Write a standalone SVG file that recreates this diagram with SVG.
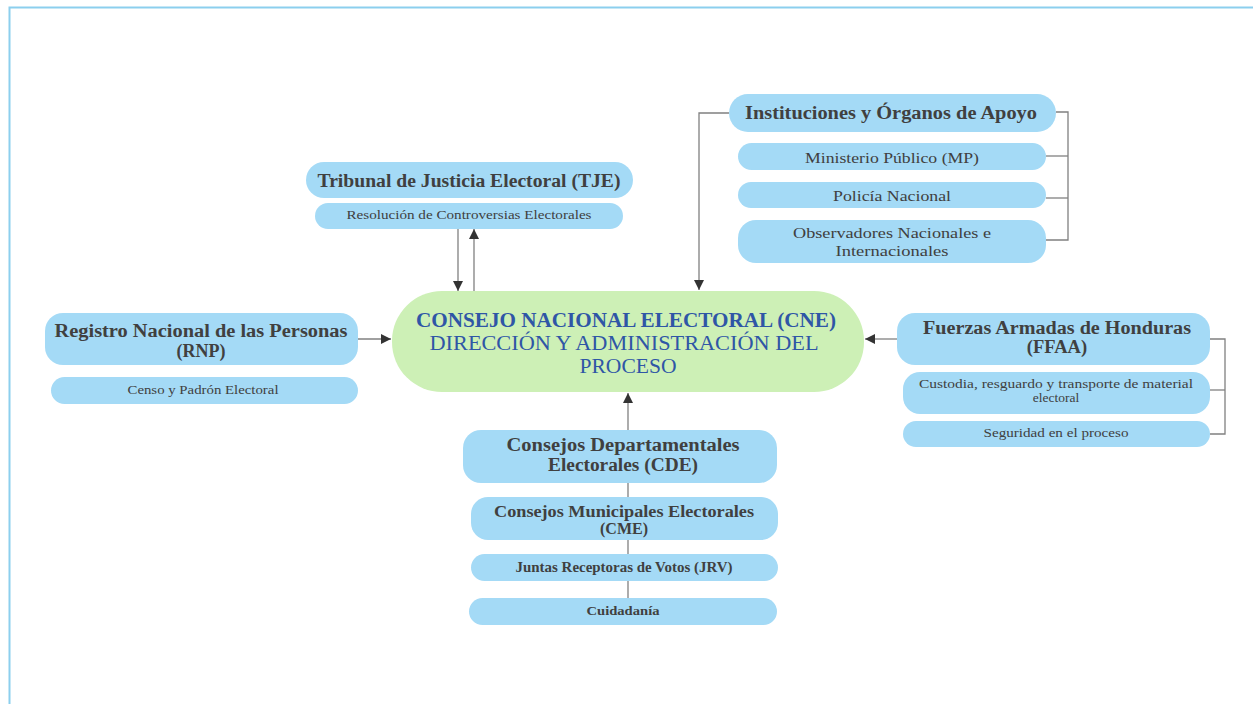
<svg xmlns="http://www.w3.org/2000/svg" width="1253" height="704" viewBox="0 0 1253 704">
<style>
.box{fill:#a4daf6}
.cne{fill:#cdf0b6}
text{font-family:"Liberation Serif","DejaVu Serif",serif;fill:#404040;text-anchor:middle}
.b{font-weight:bold}
.c{fill:#2f56a6}
.ln{fill:none;stroke:#808080;stroke-width:1.3}
</style>
<defs>
<marker id="ah" viewBox="0 0 10 10" refX="10" refY="5" markerWidth="10" markerHeight="10" markerUnits="userSpaceOnUse" orient="auto">
<path d="M0,0 L10,5 L0,10 z" fill="#333"/>
</marker>
</defs>
<rect width="1253" height="704" fill="#fff"/>
<path d="M9.5,704 V7.5 H1253" fill="none" stroke="#8ccfee" stroke-width="2"/>

<g id="connectors">
<line class="ln" x1="458" y1="229" x2="458" y2="291" marker-end="url(#ah)"/>
<line class="ln" x1="474" y1="291" x2="474" y2="229" marker-end="url(#ah)"/>
<polyline class="ln" points="729,113 699,113 699,290" marker-end="url(#ah)"/>
<polyline class="ln" points="1056,112 1068,112 1068,240 1046,240"/>
<line class="ln" x1="1046" y1="156" x2="1068" y2="156"/>
<line class="ln" x1="1046" y1="198" x2="1068" y2="198"/>
<line class="ln" x1="358" y1="339" x2="391" y2="339" marker-end="url(#ah)"/>
<line class="ln" x1="897" y1="339" x2="865" y2="339" marker-end="url(#ah)"/>
<polyline class="ln" points="1210,339 1225,339 1225,434 1210,434"/>
<line class="ln" x1="1210" y1="390" x2="1225" y2="390"/>
<line class="ln" x1="628" y1="598" x2="628" y2="393" marker-end="url(#ah)"/>
</g>

<g id="cne">
<rect class="cne" x="392" y="291" width="472" height="101" rx="50"/>
<text class="b c" x="626" y="327" font-size="22" textLength="420" lengthAdjust="spacingAndGlyphs">CONSEJO NACIONAL ELECTORAL (CNE)</text>
<text class="c" x="624" y="350" font-size="22" textLength="389" lengthAdjust="spacingAndGlyphs">DIRECCIÓN Y ADMINISTRACIÓN DEL</text>
<text class="c" x="628" y="373" font-size="22" textLength="97" lengthAdjust="spacingAndGlyphs">PROCESO</text>
</g>

<g id="tje">
<rect class="box" x="306" y="162" width="327" height="36" rx="18"/>
<text class="b" x="469" y="187" font-size="18" textLength="303" lengthAdjust="spacingAndGlyphs">Tribunal de Justicia Electoral (TJE)</text>
</g>
<g id="tje-resolucion">
<rect class="box" x="315" y="203" width="308" height="26" rx="13"/>
<text x="469" y="219" font-size="13.5" textLength="245" lengthAdjust="spacingAndGlyphs">Resolución de Controversias Electorales</text>
</g>

<g id="instituciones">
<rect class="box" x="729" y="94" width="327" height="38" rx="19"/>
<text class="b" x="891" y="119" font-size="18" textLength="292" lengthAdjust="spacingAndGlyphs">Instituciones y Órganos de Apoyo</text>
</g>
<g id="mp">
<rect class="box" x="738" y="143" width="308" height="27" rx="13.5"/>
<text x="892" y="163" font-size="15.5" textLength="174" lengthAdjust="spacingAndGlyphs">Ministerio Público (MP)</text>
</g>
<g id="policia">
<rect class="box" x="738" y="182" width="308" height="26" rx="13"/>
<text x="892" y="201" font-size="15.5" textLength="118" lengthAdjust="spacingAndGlyphs">Policía Nacional</text>
</g>
<g id="observadores">
<rect class="box" x="738" y="220" width="308" height="43" rx="18"/>
<text x="892" y="238" font-size="15.5" textLength="198" lengthAdjust="spacingAndGlyphs">Observadores Nacionales e</text>
<text x="892" y="256" font-size="15.5" textLength="113" lengthAdjust="spacingAndGlyphs">Internacionales</text>
</g>

<g id="rnp">
<rect class="box" x="45" y="313" width="313" height="52" rx="18"/>
<text class="b" x="201" y="337" font-size="18" textLength="293" lengthAdjust="spacingAndGlyphs">Registro Nacional de las Personas</text>
<text class="b" x="201" y="357" font-size="18">(RNP)</text>
</g>
<g id="censo">
<rect class="box" x="51" y="377" width="307" height="27" rx="13.5"/>
<text x="203" y="394" font-size="13.5" textLength="151" lengthAdjust="spacingAndGlyphs">Censo y Padrón Electoral</text>
</g>

<g id="ffaa">
<rect class="box" x="897" y="313" width="313" height="52" rx="18"/>
<text class="b" x="1057" y="334" font-size="18.5" textLength="268" lengthAdjust="spacingAndGlyphs">Fuerzas Armadas de Honduras</text>
<text class="b" x="1057" y="353" font-size="18.5">(FFAA)</text>
</g>
<g id="custodia">
<rect class="box" x="903" y="372" width="307" height="42" rx="17"/>
<text x="1056" y="388" font-size="13.5" textLength="274" lengthAdjust="spacingAndGlyphs">Custodia, resguardo y transporte de material</text>
<text x="1056" y="402" font-size="13.5">electoral</text>
</g>
<g id="seguridad">
<rect class="box" x="903" y="421" width="307" height="26" rx="13"/>
<text x="1056" y="437" font-size="13.5" textLength="145" lengthAdjust="spacingAndGlyphs">Seguridad en el proceso</text>
</g>

<g id="cde">
<rect class="box" x="463" y="430" width="314" height="53" rx="18"/>
<text class="b" x="623" y="451" font-size="18" textLength="233" lengthAdjust="spacingAndGlyphs">Consejos Departamentales</text>
<text class="b" x="623" y="471" font-size="18" textLength="150" lengthAdjust="spacingAndGlyphs">Electorales (CDE)</text>
</g>
<g id="cme">
<rect class="box" x="471" y="497" width="307" height="43" rx="17"/>
<text class="b" x="624" y="517" font-size="16" textLength="260" lengthAdjust="spacingAndGlyphs">Consejos Municipales Electorales</text>
<text class="b" x="624" y="534" font-size="16">(CME)</text>
</g>
<g id="jrv">
<rect class="box" x="471" y="554" width="307" height="27" rx="13.5"/>
<text class="b" x="624" y="572" font-size="14" textLength="217" lengthAdjust="spacingAndGlyphs">Juntas Receptoras de Votos (JRV)</text>
</g>
<g id="ciudadania">
<rect class="box" x="469" y="598" width="308" height="27" rx="13.5"/>
<text class="b" x="623" y="615" font-size="13.5" textLength="73" lengthAdjust="spacingAndGlyphs">Cuidadanía</text>
</g>
</svg>
